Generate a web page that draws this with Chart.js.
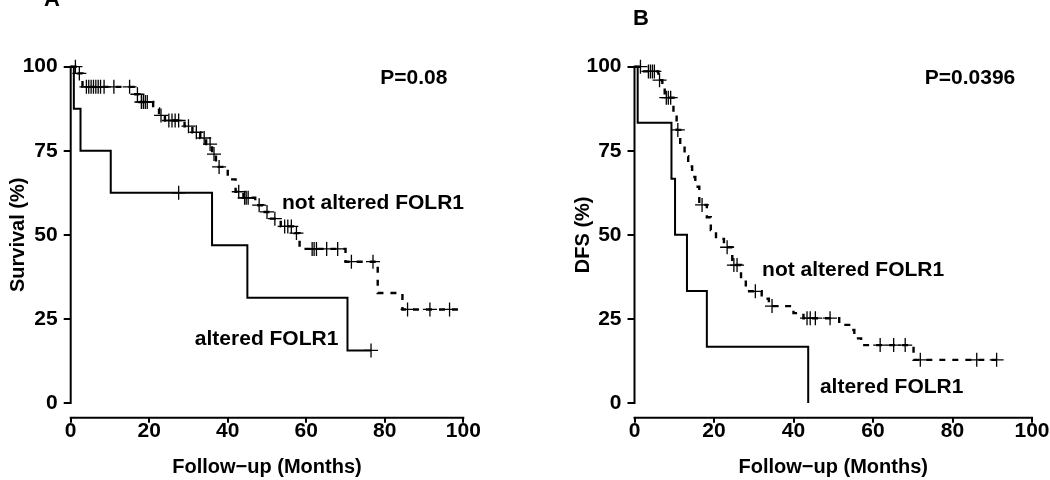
<!DOCTYPE html>
<html><head><meta charset="utf-8">
<script src="https://cdn.jsdelivr.net/npm/chart.js@4.4.1/dist/chart.umd.min.js"></script>
<style>
html,body{margin:0;padding:0;background:#fff;}
#wrap{position:relative;width:1050px;height:480px;overflow:hidden;background:#fff;}
canvas{position:absolute;top:0;}
#cA{left:0;} #cB{left:525px;}
</style></head><body>
<div id="wrap"><canvas id="cA" width="525" height="480"></canvas><canvas id="cB" width="525" height="480"></canvas></div>
<script>
// ---------- Panel A: overall survival ----------
const aAltTime = [0, 0.8, 2.5, 10.2, 36, 45, 70.5, 76.5];
const aAltSurv = [100, 87.5, 75, 62.5, 46.9, 31.3, 15.6, 15.6];
const aAltCensTime = [27.5, 76.5];
const aAltCensSurv = [62.5, 15.6];
const aNotTime = [0, 1.8, 3, 16, 17.5, 21, 22.5, 24, 29, 31, 33, 34.5, 36, 37, 40, 42, 44, 47, 49, 51, 53.5, 57, 58.3, 70, 78.2, 84.5, 100];
const aNotSurv = [100, 98, 94, 91.8, 89.5, 87.6, 85.5, 84, 82.3, 80.5, 78.8, 77, 74, 70.2, 66.5, 62.8, 61, 58.8, 56.8, 54.8, 52.5, 50.5, 45.8, 42, 32.7, 27.8, 27.8];
const aNotCensTime = [1.2, 2.2, 4, 4.6, 5.2, 5.8, 6.4, 7, 7.6, 8.5, 11, 15, 17, 18, 18.5, 19, 19.5, 23, 25, 25.8, 26.6, 27.5, 30, 32, 34, 35.5, 36.5, 37.8, 42.8, 44.3, 44.7, 45.2, 48, 50, 52, 54.5, 55.3, 56.2, 57.5, 61.5, 62, 62.6, 65.2, 68, 71.5, 77, 85.8, 91.5, 96.5];
const aNotCensSurv = [100, 98, 94, 94, 94, 94, 94, 94, 94, 94, 94, 94, 91.8, 89.5, 89.5, 89.5, 89.5, 85.5, 84, 84, 84, 84, 82.3, 80.5, 78.8, 77, 74, 70.2, 62.8, 61, 61, 61, 58.8, 56.8, 54.8, 52.5, 52.5, 52.5, 50.5, 45.8, 45.8, 45.8, 45.8, 45.8, 42, 42, 27.8, 27.8, 27.8];

// ---------- Panel B: disease-free survival ----------
const bAltTime = [0, 0.8, 9.3, 10.2, 13.2, 18.2, 43.7];
const bAltSurv = [100, 83.3, 66.7, 50, 33.3, 16.7, 0];
const bNotTime = [0, 2, 6, 7, 7.6, 9.8, 10.6, 11.5, 12.6, 13.5, 14.5, 15.3, 16.3, 18.2, 19.2, 20.5, 22.5, 24.6, 26.8, 28, 32, 33.8, 40, 42.5, 51.5, 54, 55.3, 57, 70.2, 91.1];
const bNotSurv = [100, 98.6, 96, 94.5, 90.8, 86.2, 81.2, 76.7, 73.4, 70.3, 67.2, 64.3, 58.9, 55.2, 51.4, 48.8, 46.3, 41, 37, 33.2, 31, 28.8, 26.7, 25.2, 23.2, 21.7, 19.2, 17.2, 12.8, 12.8];
const bNotCensTime = [1.5, 3.5, 4, 4.5, 5, 6.3, 8, 8.5, 9.1, 10.9, 17, 23.3, 25, 25.8, 30.4, 34.6, 43.4, 44.2, 45.5, 49.2, 61.8, 65.2, 68.1, 71.9, 86.1, 91.1];
const bNotCensSurv = [100, 98.6, 98.6, 98.6, 98.6, 96, 90.8, 90.8, 90.8, 81.2, 58.9, 46.3, 41, 41, 33.2, 28.8, 25.2, 25.2, 25.2, 25.2, 17.2, 17.2, 17.2, 12.8, 12.8, 12.8];

// ---------- axes ----------
const xTicks = [0, 20, 40, 60, 80, 100];
const yTicks = [0, 25, 50, 75, 100];
const xTitle = 'Follow\u2212up (Months)';

const FONT = '"Liberation Sans", Arial, Helvetica, sans-serif';
const pts = (t, s) => t.map((v, i) => ({x: v, y: s[i]}));

const kmPlugin = {
  id: 'kmAxes',
  afterDraw(chart, args, o) {
    const {ctx, scales: {x, y}, chartArea} = chart;
    ctx.save();
    ctx.strokeStyle = '#000';
    ctx.lineWidth = 2;
    const xl = x.getPixelForValue(0);
    ctx.beginPath();
    ctx.moveTo(xl, y.getPixelForValue(0) + 1);
    ctx.lineTo(xl, y.getPixelForValue(100) - 1);
    ctx.stroke();
    ctx.beginPath();
    ctx.moveTo(x.getPixelForValue(0) - 1, chartArea.bottom);
    ctx.lineTo(x.getPixelForValue(100) + 1, chartArea.bottom);
    ctx.stroke();
    ctx.fillStyle = '#000';
    ctx.font = 'bold 21px ' + FONT;
    ctx.textAlign = 'center';
    ctx.textBaseline = 'middle';
    for (const n of o.notes) ctx.fillText(n.text, x.getPixelForValue(n.x), y.getPixelForValue(n.y));
    ctx.font = 'bold 22px ' + FONT;
    ctx.fillText(o.letter.text, o.letter.px, o.letter.py);
    ctx.font = 'bold 20px ' + FONT;
    ctx.translate(o.yTitleX, y.getPixelForValue(50));
    ctx.rotate(-Math.PI / 2);
    ctx.fillText(o.yTitle, 0, 0);
    ctx.restore();
  }
};

function makeChart(id, sets, conf) {
  const datasets = [];
  for (const s of sets) {
    if (s.kind === 'line') {
      datasets.push({
        type: 'line', data: s.data, stepped: true, borderColor: '#000',
        borderWidth: s.dash ? 2.4 : 2, borderDash: s.dash || [], pointRadius: 0,
        fill: false, clip: false, order: 2
      });
    } else {
      datasets.push({
        type: 'scatter', data: s.data, showLine: false, pointStyle: 'cross',
        pointRadius: 7, borderColor: '#000', borderWidth: 1.3, clip: false, order: 1
      });
    }
  }
  return new Chart(document.getElementById(id), {
    type: 'line',
    data: {datasets},
    options: {
      responsive: false, animation: false, devicePixelRatio: 1, events: [],
      layout: {padding: {left: conf.padLeft, right: conf.padRight, top: 66.7, bottom: 0}},
      plugins: {legend: {display: false}, tooltip: {enabled: false},
        kmAxes: {notes: conf.notes, yTitle: conf.yTitle, yTitleX: conf.yTitleX, letter: conf.letter}},
      scales: {
        x: {
          type: 'linear', min: 0, max: 100,
          afterBuildTicks: s => { s.ticks = xTicks.map(v => ({value: v})); },
          afterFit: s => { s.height = 62.3; s.paddingLeft = 0; s.paddingRight = 0; },
          grid: {display: true, drawOnChartArea: false, drawTicks: true, tickLength: 5, color: '#000', lineWidth: 2},
          border: {display: false},
          ticks: {color: '#000', padding: -2, maxRotation: 0, autoSkip: false,
            font: {family: FONT, size: 21, weight: 'bold', lineHeight: 1}},
          title: {display: true, text: xTitle, color: '#000', padding: {top: 0, bottom: 1},
            font: {family: FONT, size: 20, weight: 'bold', lineHeight: 1.2}}
        },
        y: {
          min: -4.4, max: 100,
          afterBuildTicks: s => { s.ticks = yTicks.map(v => ({value: v})); },
          afterFit: s => { s.width = conf.yWidth; s.paddingTop = 0; s.paddingBottom = 0; },
          grid: {display: true, drawOnChartArea: false, drawTicks: true, tickLength: 7, color: '#000', lineWidth: 2},
          border: {display: false},
          ticks: {color: '#000', padding: 6, font: {family: FONT, size: 21, weight: 'bold'}}
        }
      }
    },
    plugins: [kmPlugin]
  });
}

makeChart('cA', [
  {kind: 'line', data: pts(aNotTime, aNotSurv), dash: [6, 7]},
  {kind: 'line', data: pts(aAltTime, aAltSurv)},
  {kind: 'cens', data: pts(aNotCensTime, aNotCensSurv)},
  {kind: 'cens', data: pts(aAltCensTime, aAltCensSurv)}
], {
  padLeft: 0, padRight: 61.7, yWidth: 70.7, yTitle: 'Survival (%)', yTitleX: 18,
  letter: {text: 'A', px: 52, py: 0},
  notes: [
    {text: 'P=0.08', x: 87.4, y: 96.6},
    {text: 'not altered FOLR1', x: 77.0, y: 59.3},
    {text: 'altered FOLR1', x: 49.9, y: 19.0}
  ]
});

makeChart('cB', [
  {kind: 'line', data: pts(bNotTime, bNotSurv), dash: [6, 7]},
  {kind: 'line', data: pts(bAltTime, bAltSurv)},
  {kind: 'cens', data: pts(bNotCensTime, bNotCensSurv)}
], {
  padLeft: 40, padRight: 18, yWidth: 69.5, yTitle: 'DFS (%)', yTitleX: 58,
  letter: {text: 'B', px: 116, py: 19},
  notes: [
    {text: 'P=0.0396', x: 84.4, y: 96.6},
    {text: 'not altered FOLR1', x: 55.0, y: 39.5},
    {text: 'altered FOLR1', x: 64.7, y: 4.8}
  ]
});
</script>
</body></html>
